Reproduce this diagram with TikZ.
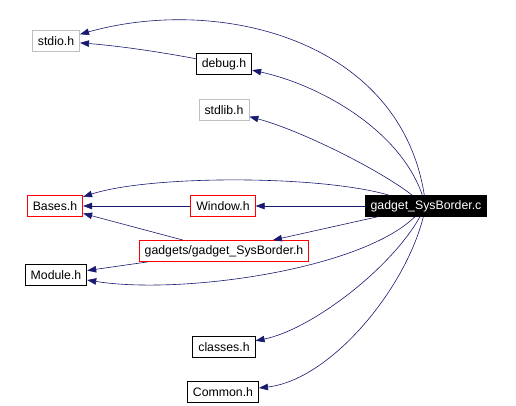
\documentclass[tikz,border=0pt]{standalone}
\usepackage{fontspec}
\setmainfont{Liberation Sans}
\usetikzlibrary{arrows.meta}
\definecolor{edgeblue}{HTML}{191970}
\definecolor{sysgray}{HTML}{BFBFBF}

\begin{document}
\begin{tikzpicture}[
    x=1pt, y=-1pt,
    file/.style={draw=black, fill=white, font=\fontsize{12.3}{14}\selectfont, inner xsep=5.5pt, inner ysep=0pt, minimum height=21pt, line width=0.8pt},
    sysfile/.style={file, draw=sysgray},
    redfile/.style={file, draw=red},
    rootfile/.style={file, fill=black, text=white},
    dep/.style={draw=edgeblue, line width=0.6pt, -{Triangle[length=9pt,width=6.5pt]}},
]
\useasboundingbox (0,0) rectangle (516,406);

\node[rootfile] (sbc) at (426,206) {gadget\_SysBorder.c};
\node[sysfile] (stdio) at (56,41) {stdio.h};
\node[file] (debug) at (224,64) {debug.h};
\node[sysfile] (stdlib) at (224,110) {stdlib.h};
\node[redfile] (bases) at (55,206) {Bases.h};
\node[redfile] (window) at (223,206) {Window.h};
\node[redfile] (sbh) at (224,251) {gadgets/gadget\_SysBorder.h};
\node[file] (module) at (56,275) {Module.h};
\node[file] (classes) at (224,347) {classes.h};
\node[file] (common) at (223,392) {Common.h};

% straight includes
\foreach \a/\b in {sbc/window, window/bases, sbh/bases, sbc/sbh, sbh/module} {
    \draw[dep] (\a) -- (\b);
}

% curved includes from the source file
\draw[dep] (sbc) .. controls (400,40) and (220,-5) .. (stdio);
\draw[dep] (sbc) .. controls (400,130) and (320,85) .. (debug);
\draw[dep] (sbc) .. controls (380,170) and (300,130) .. (stdlib);
\draw[dep] (sbc) .. controls (320,175) and (150,175) .. (bases);
\draw[dep] (sbc) .. controls (360,270) and (180,295) .. (module);
\draw[dep] (sbc) .. controls (390,270) and (310,330) .. (classes);
\draw[dep] (sbc) .. controls (405,290) and (330,380) .. (common);
\draw[dep] (debug) .. controls (160,52) and (120,46) .. (stdio);

\end{tikzpicture}
\end{document}
